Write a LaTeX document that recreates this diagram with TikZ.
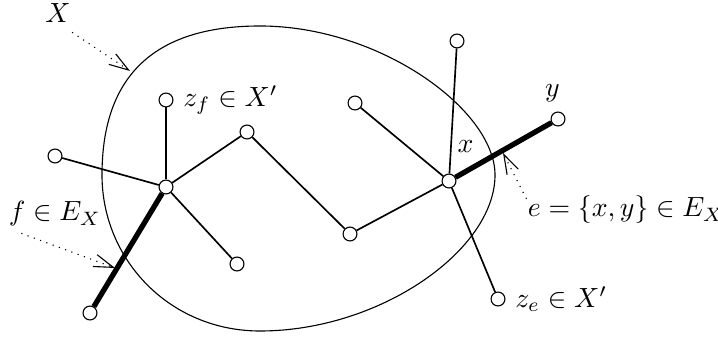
\documentclass[tikz,border=0pt]{standalone}
\usepackage{amsmath,amssymb}
\usetikzlibrary{arrows.meta, positioning}

\tikzset{
  vtx/.style={circle, draw, fill=white, inner sep=0pt, minimum size=5pt, line width=0.4pt},
  edge/.style={line width=0.6pt},
  tedge/.style={line width=1.9pt},
  pointer/.style={dotted, line width=0.4pt, -{Straight Barb[length=7pt, width=4.5pt]}}
}

\begin{document}
\begin{tikzpicture}[x=0.36pt, y=-0.36pt]
  \useasboundingbox (0,0) rectangle (718,339);

  % The set X
  \draw[line width=0.4pt] (102,175) .. controls (102,80) and (150,26) .. (260,26)
    .. controls (380,26) and (495,110) .. (495,175)
    .. controls (495,250) and (380,331) .. (260,331)
    .. controls (170,331) and (102,260) .. cycle;

  % Vertices
  \node[vtx] (u)  at (166,187) {};
  \node[vtx] (fa) at (90,313) {};
  \node[vtx] (zf) at (166,100) {};
  \node[vtx] (l)  at (55,156) {};
  \node[vtx] (b)  at (237,264) {};
  \node[vtx] (c)  at (247,132) {};
  \node[vtx] (d)  at (350,234) {};
  \node[vtx] (g)  at (355,103) {};
  \node[vtx] (h)  at (457,41) {};
  \node[vtx] (x)  at (449,181) {};
  \node[vtx] (y)  at (558,119) {};
  \node[vtx] (ze) at (498,299) {};

  % Edges
  \draw[edge] (u) -- (l);
  \draw[edge] (u) -- (zf);
  \draw[edge] (u) -- (c);
  \draw[edge] (u) -- (b);
  \draw[edge] (c) -- (d);
  \draw[edge] (d) -- (x);
  \draw[edge] (x) -- (g);
  \draw[edge] (x) -- (h);
  \draw[edge] (x) -- (ze);
  \draw[tedge] (u) -- (fa);
  \draw[tedge] (x) -- (y);

  % Vertex labels
  \node[right=0pt of zf] {$z_f \in X'$};
  \node[right=0pt of ze] {$z_e \in X'$};
  \node[above=4pt of x, xshift=6pt] {$x$};
  \node[above=0pt of y, xshift=-2pt] {$y$};

  % Pointers
  \node (lX) at (58,13) {$X$};
  \node (lf) at (55,214) {$f \in E_X$};
  \node (le) at (626,210) {$e = \{x,y\} \in E_X$};
  \coordinate (tX) at (130,71);
  \coordinate (tf) at (115,268);
  \coordinate (te) at (503,153);
  \draw[pointer] ([xshift=-3pt]lX.south east) -- (tX);
  \draw[pointer] ([xshift=8pt, yshift=1pt]lf.south west) -- (tf);
  \draw[pointer] ([xshift=3pt, yshift=4pt]le.west) -- (te);
\end{tikzpicture}
\end{document}
